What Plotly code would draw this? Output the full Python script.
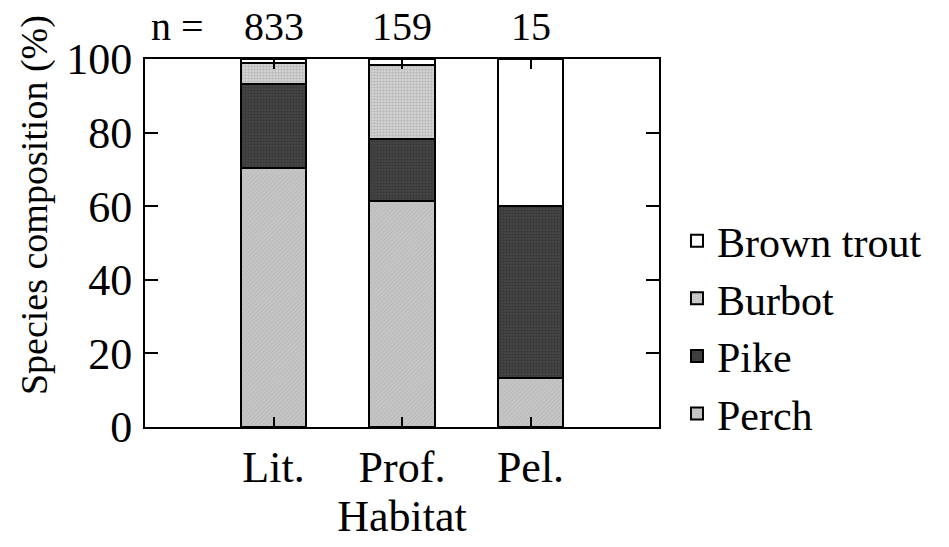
import plotly.graph_objects as go

habitats = ["Lit.", "Prof.", "Pel."]
n_counts = ["833", "159", "15"]
perch = [70.5, 61.3, 13.3]
pike = [22.7, 17.0, 46.7]
burbot = [5.8, 20.2, 0.0]
brown_trout = [1.0, 1.5, 40.0]
y_ticks = [0, 20, 40, 60, 80, 100]

FONT = "Liberation Serif"
FS = 44

fig = go.Figure()
series = [
    ("Perch", perch, dict(bgcolor="#c6c6c6", fgcolor="#a9a9a9", shape="/", size=3, solidity=0.3)),
    ("Pike", pike, dict(bgcolor="#454545", fgcolor="#262626", shape=".", size=3, solidity=0.4)),
    ("Burbot", burbot, dict(bgcolor="#d8d8d8", fgcolor="#9a9a9a", shape=".", size=3, solidity=0.5)),
    ("Brown trout", brown_trout, None),
]
for name, vals, pat in series:
    marker = dict(color="white", line=dict(color="black", width=2))
    if pat is not None:
        marker["color"] = pat["bgcolor"]
        marker["pattern"] = pat
    fig.add_trace(go.Bar(x=habitats, y=vals, name=name, width=0.51, marker=marker))

for h, n in zip(habitats, n_counts):
    fig.add_annotation(x=h, y=1.087, xref="x", yref="paper", text=n, showarrow=False,
                       xanchor="center", yanchor="middle",
                       font=dict(family=FONT, size=FS - 4, color="black"))
fig.add_annotation(x=0.064, y=1.087, xref="paper", yref="paper", text="n =", showarrow=False,
                   xanchor="center", yanchor="middle",
                   font=dict(family=FONT, size=FS - 4, color="black"))
fig.add_annotation(x=-0.216, y=0.603, xref="paper", yref="paper", text="Species composition (%)",
                   showarrow=False, textangle=-90, xanchor="center", yanchor="middle",
                   font=dict(family=FONT, size=38, color="black"))

fig.update_layout(
    barmode="stack",
    width=949, height=547,
    margin=dict(l=145, r=290, t=59, b=120),
    plot_bgcolor="white", paper_bgcolor="white",
    font=dict(family=FONT, size=FS, color="black"),
    showlegend=True,
    legend=dict(x=1.035, y=0.598, xanchor="left", yanchor="top", traceorder="reversed",
                font=dict(family=FONT, size=FS - 2, color="black"), itemwidth=30,
                bgcolor="rgba(0,0,0,0)"),
    bargap=0,
)
fig.update_xaxes(
    type="category", range=[-1, 3], showline=True, linecolor="black", linewidth=2, mirror="ticks",
    ticks="inside", ticklen=10, tickwidth=2, tickcolor="black", showgrid=False,
    title=dict(text="Habitat", standoff=6, font=dict(family=FONT, size=FS)),
    tickfont=dict(family=FONT, size=FS),
)
fig.update_yaxes(
    range=[0, 100], tickvals=y_ticks, showline=True, linecolor="black", linewidth=2, mirror="ticks",
    ticks="inside", ticklen=13, tickwidth=2, tickcolor="black", showgrid=False, zeroline=False,
    tickfont=dict(family=FONT, size=FS), ticklabelstandoff=2,
)
fig.write_html("out.html")
